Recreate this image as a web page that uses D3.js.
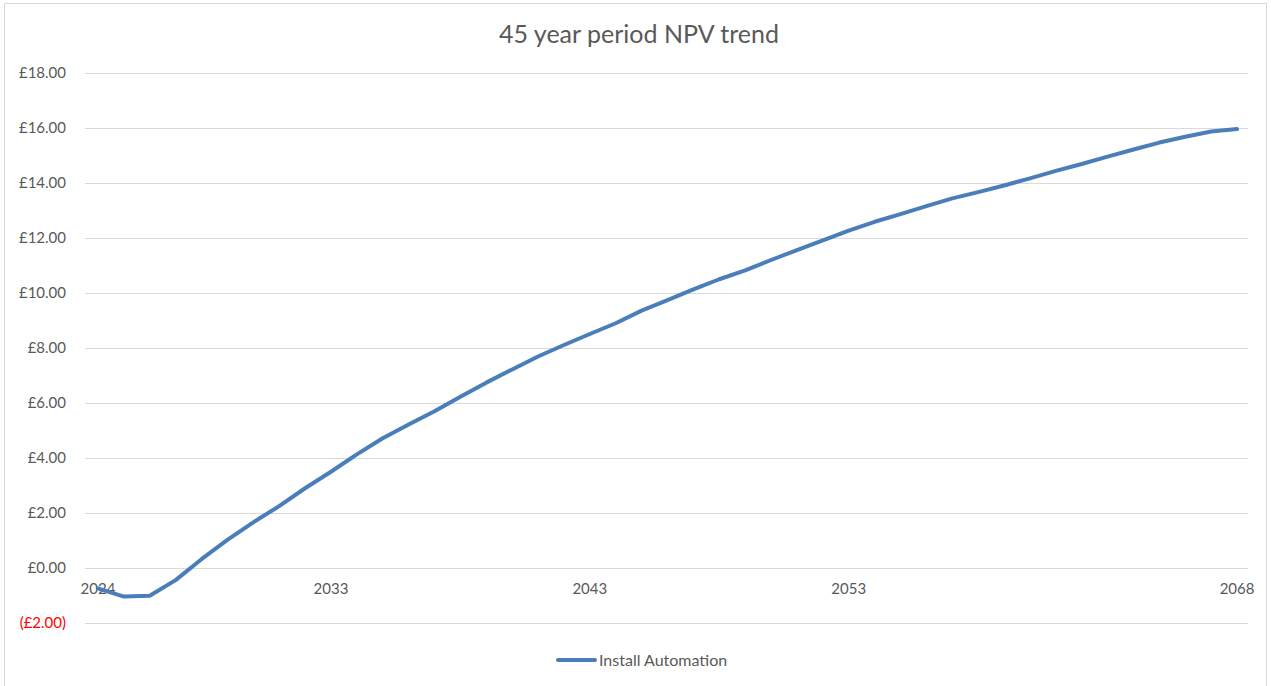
<!DOCTYPE html>
<html>
<head>
    <title>45 year period NPV trend</title>
    <script src="https://d3js.org/d3.v7.min.js"></script>
    <style>
        body { margin: 0; background: #fff; }
        text { font-family: Lato, "Open Sans", sans-serif; fill: #595959; }
        .grid line { stroke: #d9d9d9; stroke-width: 1; shape-rendering: crispEdges; }
        .grid path { display: none; }
    </style>
</head>
<body>
<div id="chart"></div>
<script>
    // years 2024..2068
    var years = d3.range(2024, 2069);
    var npv = [
        -0.74, -1.04, -1.01, -0.44, 0.32, 1.02, 1.66, 2.25, 2.90, 3.50,
        4.13, 4.72, 5.22, 5.70, 6.23, 6.74, 7.22, 7.69, 8.11, 8.51,
        8.90, 9.36, 9.74, 10.13, 10.50, 10.82, 11.20, 11.56, 11.91, 12.27,
        12.59, 12.87, 13.16, 13.44, 13.67, 13.91, 14.17, 14.44, 14.69, 14.96,
        15.22, 15.47, 15.68, 15.87, 15.96
    ];
    var yTicks = [-2, 0, 2, 4, 6, 8, 10, 12, 14, 16, 18];
    var xTickYears = [2024, 2033, 2043, 2053, 2068];
    var seriesName = "Install Automation";

    var width = 1271, height = 686;
    var lineColor = "#4a7ebb";

    var svg = d3.select("#chart").append("svg")
        .attr("width", width)
        .attr("height", height);

    // chart area border
    svg.append("rect")
        .attr("x", 4.5).attr("y", 3.5)
        .attr("width", 1262).attr("height", 700)
        .attr("fill", "none")
        .attr("stroke", "#d9d9d9");

    svg.append("text")
        .attr("x", 639).attr("y", 43)
        .attr("text-anchor", "middle")
        .style("font-size", "25px")
        .text("45 year period NPV trend");

    var x = d3.scalePoint()
        .domain(years)
        .range([85, 1250])
        .padding(0.5);

    var y = d3.scaleLinear()
        .domain([-2, 18])
        .range([623, 73]);

    // gridlines
    svg.append("g")
        .attr("class", "grid")
        .attr("transform", "translate(85,0)")
        .call(d3.axisRight(y).tickValues(yTicks).tickSize(1163).tickFormat(""));

    // y labels
    function fmt(v) {
        return v < 0 ? "(£" + Math.abs(v).toFixed(2) + ")" : "£" + v.toFixed(2);
    }
    svg.append("g").selectAll("text")
        .data(yTicks)
        .enter().append("text")
        .attr("x", 66)
        .attr("y", d => y(d))
        .attr("dy", "0.35em")
        .attr("text-anchor", "end")
        .style("font-size", "15px")
        .style("fill", d => d < 0 ? "#ff0000" : "#595959")
        .text(fmt);

    // x labels sit under the zero line
    svg.append("g").selectAll("text")
        .data(xTickYears)
        .enter().append("text")
        .attr("x", d => x(d))
        .attr("y", y(0) + 26)
        .attr("text-anchor", "middle")
        .style("font-size", "15px")
        .text(d => d);

    var line = d3.line()
        .x((d, i) => x(years[i]))
        .y(d => y(d));

    svg.append("path")
        .datum(npv)
        .attr("d", line)
        .attr("fill", "none")
        .attr("stroke", lineColor)
        .attr("stroke-width", 4)
        .attr("stroke-linejoin", "round")
        .attr("stroke-linecap", "round");

    // legend
    svg.append("line")
        .attr("x1", 558).attr("x2", 595)
        .attr("y1", 660).attr("y2", 660)
        .attr("stroke", lineColor)
        .attr("stroke-width", 4)
        .attr("stroke-linecap", "round");

    svg.append("text")
        .attr("x", 599).attr("y", 660)
        .attr("dy", "0.35em")
        .style("font-size", "16px")
        .text(seriesName);
</script>
</body>
</html>
